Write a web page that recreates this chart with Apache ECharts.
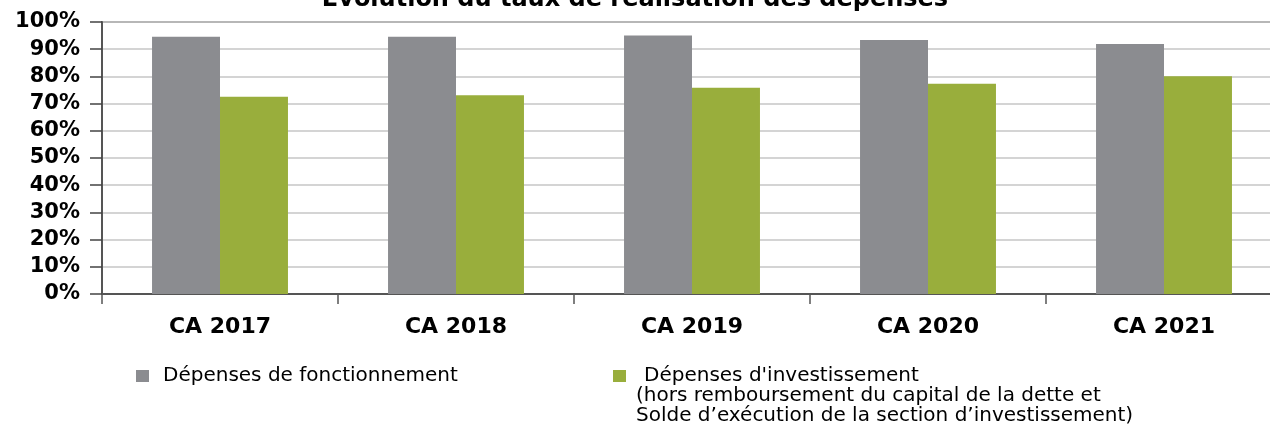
<!DOCTYPE html>
<html>
<head>
<meta charset="utf-8">
<script src="https://cdn.jsdelivr.net/npm/echarts@6/dist/echarts.min.js"></script>
<style>
html,body{margin:0;padding:0;background:#fff;}
#chart{width:1270px;height:426px;}
</style>
</head>
<body>
<div id="chart"></div>
<script>
const categories = ['CA 2017', 'CA 2018', 'CA 2019', 'CA 2020', 'CA 2021'];
const fonctionnement = [94.6, 94.6, 95.0, 93.4, 91.9];
const investissement = [72.5, 73.1, 75.8, 77.3, 80.1];
const seriesNames = ['Dépenses de fonctionnement', "Dépenses d'investissement"];
const legendExtraLines = ["(hors remboursement du capital de la dette et", "Solde d’exécution de la section d’investissement)"];
const titleText = 'Évolution du taux de réalisation des dépenses';

const chart = echarts.init(document.getElementById('chart'), null, {renderer: 'canvas'});
const option = {
  backgroundColor: '#ffffff',
  animation: false,
  title: {
    text: titleText,
    left: 'center',
    top: -17,
    textStyle: {fontFamily: 'DejaVu Sans', fontWeight: 'bold', fontSize: 24, color: '#000'}
  },
  grid: {
    left: 102, width: 1180, top: 22, bottom: 132,
    outerBoundsMode: 'none',
    containLabel: false,
    show: true, borderColor: '#8a8a8a', borderWidth: 2, backgroundColor: 'transparent'
  },
  legend: [
    {
      data: [seriesNames[0]],
      left: 131, top: 361,
      itemWidth: 13, itemHeight: 12, itemGap: 0,
      icon: 'rect',
      textStyle: {fontFamily: 'DejaVu Sans', fontSize: 20, color: '#000', padding: [0, 0, 0, 9]}
    },
    {
      data: [seriesNames[1]],
      left: 608, top: 361,
      itemWidth: 13, itemHeight: 12, itemGap: 0,
      icon: 'rect',
      textStyle: {fontFamily: 'DejaVu Sans', fontSize: 20, color: '#000', padding: [0, 0, 0, 13]}
    }
  ],
  graphic: legendExtraLines.map((t, i) => ({
    type: 'text',
    left: 636,
    top: 386 + i * 20,
    style: {text: t, fontFamily: 'DejaVu Sans', fontSize: 20, fill: '#000'}
  })),
  xAxis: {
    type: 'category',
    data: categories,
    axisLine: {show: true, lineStyle: {color: '#555', width: 2}},
    axisTick: {show: true, alignWithLabel: false, length: 10, lineStyle: {color: '#555', width: 1.5}},
    axisLabel: {margin: 22, fontFamily: 'DejaVu Sans', fontWeight: 'bold', fontSize: 22, color: '#000'},
    splitLine: {show: false}
  },
  yAxis: {
    type: 'value',
    min: 0, max: 100, interval: 10,
    axisLine: {show: true, lineStyle: {color: '#555', width: 2}},
    axisTick: {show: true, length: 12, lineStyle: {color: '#444', width: 1.5}},
    axisLabel: {formatter: '{value}%', margin: 22, fontFamily: 'DejaVu Sans', fontWeight: 'bold', fontSize: 21, color: '#000'},
    splitLine: {show: true, lineStyle: {color: '#c6c6c6', width: 1.5}}
  },
  series: [
    {
      name: seriesNames[0], type: 'bar', data: fonctionnement,
      barWidth: '28.8%', barGap: '0%',
      itemStyle: {color: '#8b8c90'}
    },
    {
      name: seriesNames[1], type: 'bar', data: investissement,
      barWidth: '28.8%', barGap: '0%',
      itemStyle: {color: '#99ae3c'}
    }
  ]
};
chart.setOption(option);
</script>
</body>
</html>
